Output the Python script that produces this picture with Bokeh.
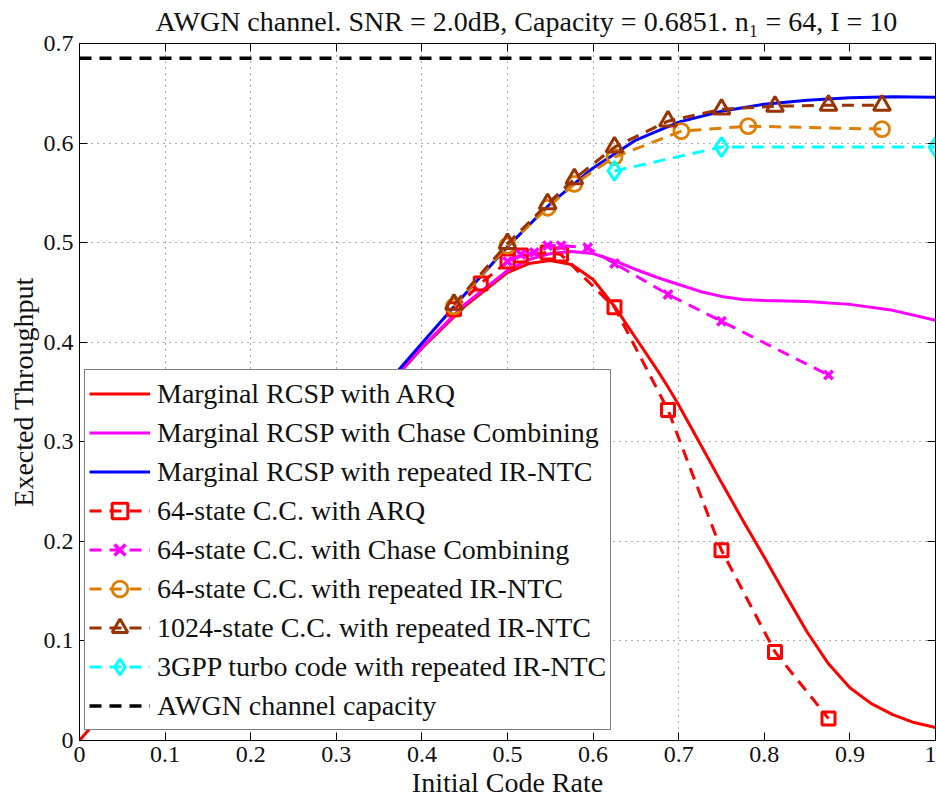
from bokeh.plotting import figure
from bokeh.models import Legend, LegendItem, LinearAxis, Range1d, FixedTicker
from bokeh.embed import file_html
from bokeh.resources import INLINE

# ---------------- data ----------------
title_text = "AWGN channel. SNR = 2.0dB, Capacity = 0.6851. n\u2081 = 64, I = 10"
x_label = "Initial Code Rate"
y_label = "Exected Throughput"

x_ticks = [0, 0.1, 0.2, 0.3, 0.4, 0.5, 0.6, 0.7, 0.8, 0.9, 1]
x_tick_labels = ["0", "0.1", "0.2", "0.3", "0.4", "0.5", "0.6", "0.7", "0.8", "0.9", "1"]
y_ticks = [0, 0.1, 0.2, 0.3, 0.4, 0.5, 0.6, 0.7]
y_tick_labels = ["0", "0.1", "0.2", "0.3", "0.4", "0.5", "0.6", "0.7"]

# Marginal RCSP with ARQ (solid red)
rcsp_arq_x = [0, 0.1, 0.2, 0.3, 0.4, 0.45, 0.5, 0.525, 0.55, 0.575, 0.6, 0.625, 0.65,
              0.675, 0.6875, 0.7, 0.725, 0.75, 0.775, 0.8, 0.825, 0.85, 0.875, 0.9, 0.925,
              0.95, 0.975, 1.0]
rcsp_arq_y = [0, 0.1, 0.2, 0.299, 0.394, 0.436, 0.470, 0.479, 0.482, 0.478, 0.463, 0.436,
              0.404, 0.372, 0.355, 0.337, 0.298, 0.259, 0.221, 0.184, 0.146, 0.109, 0.077,
              0.053, 0.037, 0.026, 0.018, 0.013]

# Marginal RCSP with Chase Combining (solid magenta)
rcsp_cc_x = [0.05, 0.1, 0.2, 0.3, 0.4, 0.45, 0.5, 0.525, 0.55, 0.575, 0.6, 0.625, 0.65,
             0.675, 0.7, 0.725, 0.75, 0.775, 0.8, 0.85, 0.9, 0.95, 1.0]
rcsp_cc_y = [0.05, 0.1, 0.2, 0.299, 0.395, 0.438, 0.472, 0.483, 0.489, 0.491, 0.489,
             0.482, 0.473, 0.465, 0.458, 0.451, 0.446, 0.443, 0.442, 0.441, 0.438,
             0.432, 0.422]

# Marginal RCSP with repeated IR-NTC (solid blue)
rcsp_ir_x = [0.05, 0.1, 0.2, 0.3, 0.4, 0.45, 0.5, 0.55, 0.6, 0.65, 0.7, 0.75, 0.8, 0.85,
             0.9, 0.95, 1.0]
rcsp_ir_y = [0.05, 0.1, 0.2, 0.3, 0.399, 0.448, 0.496, 0.539, 0.575, 0.603, 0.621, 0.632,
             0.639, 0.643, 0.6455, 0.6465, 0.646]

# 64-state C.C. with ARQ (red dashed, squares)
cc64_arq_x = [0.4375, 0.46875, 0.5, 0.515625, 0.546875, 0.5625, 0.625, 0.6875, 0.75,
              0.8125, 0.875]
cc64_arq_y = [0.433, 0.459, 0.481, 0.487, 0.490, 0.488, 0.435, 0.332, 0.191, 0.089, 0.022]

# 64-state C.C. with Chase Combining (magenta dashed, crosses)
cc64_cc_x = [0.5, 0.515625, 0.53125, 0.546875, 0.5625, 0.59375, 0.625, 0.6875, 0.75, 0.875]
cc64_cc_y = [0.481, 0.488, 0.490, 0.497, 0.497, 0.495, 0.479, 0.448, 0.421, 0.367]

# 64-state C.C. with repeated IR-NTC (orange dashed, circles)
cc64_ir_x = [0.4375, 0.5, 0.546875, 0.578125, 0.625, 0.703125, 0.78125, 0.9375]
cc64_ir_y = [0.436, 0.497, 0.535, 0.559, 0.586, 0.612, 0.617, 0.614]

# 1024-state C.C. with repeated IR-NTC (brown dashed, triangles)
cc1024_ir_x = [0.4375, 0.5, 0.546875, 0.578125, 0.625, 0.6875, 0.75, 0.8125, 0.875, 0.9375]
cc1024_ir_y = [0.438, 0.499, 0.539, 0.564, 0.596, 0.622, 0.634, 0.637, 0.638, 0.638]

# 3GPP turbo code with repeated IR-NTC (cyan dashed, diamonds)
turbo_ir_x = [0.625, 0.75, 1.0]
turbo_ir_y = [0.572, 0.596, 0.596]

# AWGN channel capacity
capacity = 0.6851
capacity_x = [0, 1]
capacity_y = [capacity, capacity]

# ---------------- figure ----------------
SERIF = "Liberation Serif"

p = figure(width=936, height=801, x_range=Range1d(0, 1), y_range=Range1d(0, 0.7),
           output_backend="svg", toolbar_location=None, title=title_text)
p.min_border_left = 79
p.min_border_right = 1
p.min_border_top = 43
p.min_border_bottom = 61
p.background_fill_color = "white"
p.border_fill_color = "white"
p.outline_line_color = "black"
p.outline_line_width = 1

p.title.text_font = SERIF
p.title.text_font_size = "28px"
p.title.text_font_style = "normal"
p.title.align = "left"
p.title.offset = 76
p.title.vertical_align = "top"
p.title.standoff = 10
p.title.text_color = "#111111"

xt = FixedTicker(ticks=x_ticks)
yt = FixedTicker(ticks=y_ticks)

for ax in p.xaxis:
    ax.ticker = xt
    ax.major_label_overrides = dict(zip(x_ticks, x_tick_labels))
    ax.axis_label = x_label
for ax in p.yaxis:
    ax.ticker = yt
    ax.major_label_overrides = dict(zip(y_ticks, y_tick_labels))
    ax.axis_label = y_label

for ax in list(p.xaxis) + list(p.yaxis):
    ax.major_tick_in = 8
    ax.major_tick_out = 0
    ax.minor_tick_in = 0
    ax.minor_tick_out = 0
    ax.axis_line_color = "black"
    ax.major_tick_line_color = "black"
    ax.major_label_text_font = SERIF
    ax.major_label_text_font_size = "24px"
    ax.major_label_text_color = "#111111"
    ax.axis_label_text_font = SERIF
    ax.axis_label_text_font_size = "28px"
    ax.axis_label_text_font_style = "normal"
    ax.axis_label_text_color = "#111111"
    ax.major_label_standoff = 6
    ax.axis_label_standoff = 2

# box ticks on top and right (no labels drawn)
top_ax = LinearAxis(ticker=xt, major_label_text_font_size="1px", major_label_text_color=None,
                    major_tick_in=8, major_tick_out=0, minor_tick_in=0, minor_tick_out=0,
                    major_label_standoff=0, axis_line_color="black")
right_ax = LinearAxis(ticker=yt, major_label_text_font_size="1px", major_label_text_color=None,
                      major_tick_in=8, major_tick_out=0, minor_tick_in=0, minor_tick_out=0,
                      major_label_standoff=0, axis_line_color="black")
p.add_layout(top_ax, "above")
p.add_layout(right_ax, "right")

for g in (p.xgrid, p.ygrid):
    g.ticker = xt if g is p.xgrid else yt
    g.grid_line_color = "#333333"
    g.grid_line_alpha = 0.8
    g.grid_line_dash = "1 5"
    g.grid_line_width = 1

LW = 3
DASH = "12 8"

r_arq = p.line(rcsp_arq_x, rcsp_arq_y, line_color="#FF0000", line_width=LW)
r_cc = p.line(rcsp_cc_x, rcsp_cc_y, line_color="#FF00FF", line_width=LW)
r_ir = p.line(rcsp_ir_x, rcsp_ir_y, line_color="#0000FF", line_width=LW)

l1 = p.line(cc64_arq_x, cc64_arq_y, line_color="#FF0000", line_width=LW, line_dash=DASH)
m1 = p.scatter(cc64_arq_x, cc64_arq_y, marker="square", size=13, line_color="#FF0000",
               line_width=3, fill_alpha=0)
l2 = p.line(cc64_cc_x, cc64_cc_y, line_color="#FF00FF", line_width=LW, line_dash=DASH)
m2 = p.scatter(cc64_cc_x, cc64_cc_y, marker="x", size=12, line_color="#FF00FF",
               line_width=3.5)
l3 = p.line(cc64_ir_x, cc64_ir_y, line_color="#DE7D00", line_width=LW, line_dash=DASH)
m3 = p.scatter(cc64_ir_x, cc64_ir_y, marker="circle", size=15, line_color="#DE7D00",
               line_width=2.8, fill_alpha=0)
l4 = p.line(cc1024_ir_x, cc1024_ir_y, line_color="#993300", line_width=LW, line_dash=DASH)
m4 = p.scatter(cc1024_ir_x, cc1024_ir_y, marker="triangle", size=17, line_color="#993300",
               line_width=3, fill_alpha=0)
l5 = p.line(turbo_ir_x, turbo_ir_y, line_color="#00FFFF", line_width=LW, line_dash=DASH)
m5 = p.scatter(turbo_ir_x, turbo_ir_y, marker="diamond", size=19, line_color="#00FFFF",
               line_width=3, fill_alpha=0)
l6 = p.line(capacity_x, capacity_y, line_color="black", line_width=3.5, line_dash=DASH)

items = [
    LegendItem(label="Marginal RCSP with ARQ", renderers=[r_arq]),
    LegendItem(label="Marginal RCSP with Chase Combining", renderers=[r_cc]),
    LegendItem(label="Marginal RCSP with repeated IR-NTC", renderers=[r_ir]),
    LegendItem(label="64-state C.C. with ARQ", renderers=[l1, m1]),
    LegendItem(label="64-state C.C. with Chase Combining", renderers=[l2, m2]),
    LegendItem(label="64-state C.C. with repeated IR-NTC", renderers=[l3, m3]),
    LegendItem(label="1024-state C.C. with repeated IR-NTC", renderers=[l4, m4]),
    LegendItem(label="3GPP turbo code with repeated IR-NTC", renderers=[l5, m5]),
    LegendItem(label="AWGN channel capacity", renderers=[l6]),
]
legend = Legend(items=items, location=(5, 10))
legend.label_text_font = SERIF
legend.label_text_font_size = "28px"
legend.label_text_color = "#111111"
legend.glyph_width = 61
legend.glyph_height = 39
legend.label_height = 39
legend.label_standoff = 7
legend.spacing = 0
legend.padding = 4
legend.margin = 0
legend.border_line_color = "black"
legend.border_line_width = 1.5
legend.background_fill_color = "white"
legend.background_fill_alpha = 1
p.add_layout(legend)

open("out.html", "w").write(file_html(p, INLINE))
